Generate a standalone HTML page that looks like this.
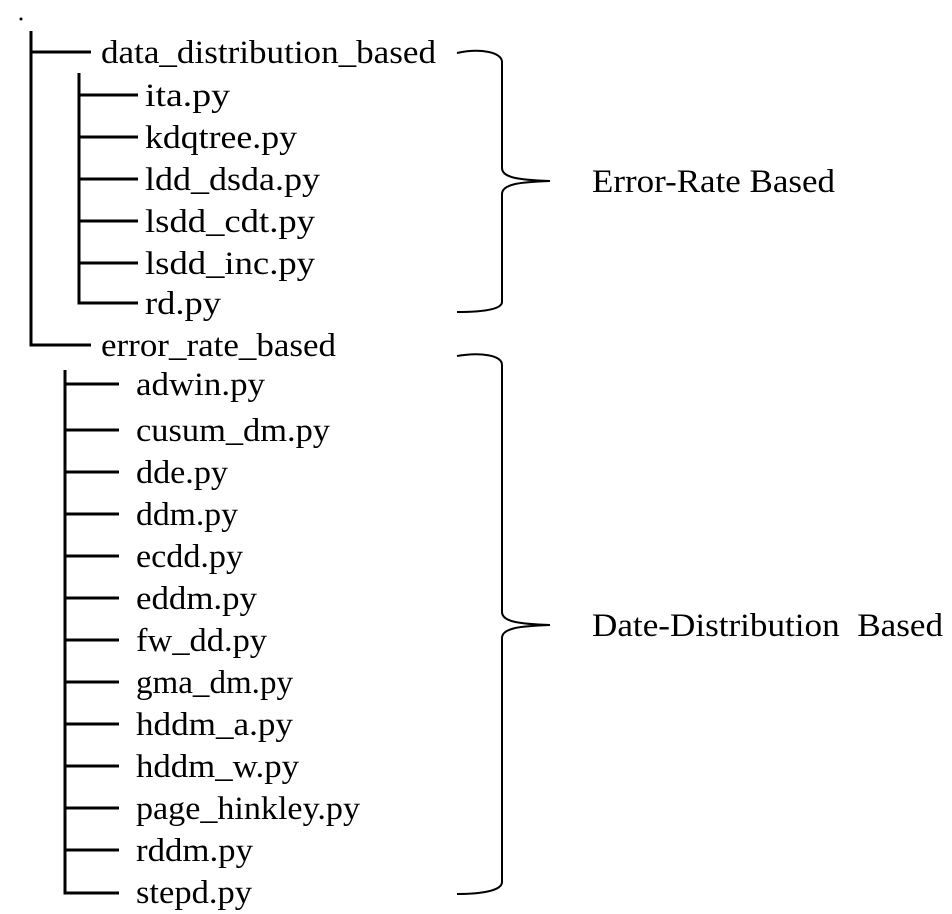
<!DOCTYPE html>
<html><head><meta charset="utf-8"><style>body{margin:0;background:#fff}svg{display:block}</style></head>
<body>
<svg width="952" height="914" viewBox="0 0 952 914" xmlns="http://www.w3.org/2000/svg" font-family="Liberation Serif, serif" font-size="33" fill="#000">
<circle cx="21" cy="19" r="1.5"/>
<g stroke="#000" stroke-width="3" fill="none">
<path d="M31 31 V345 H91 M31 52 H91"/>
<path d="M79 73 V303 H138 M79 95 H138 M79 137 H138 M79 179 H138 M79 221 H138 M79 263 H138"/>
<path d="M65 370 V893 H119 M65 384 H119 M65 430 H119 M65 472 H119 M65 514 H119 M65 556 H119 M65 598 H119 M65 640 H119 M65 682 H119 M65 724 H119 M65 766 H119 M65 808 H119 M65 850 H119"/>
</g>
<g stroke="#000" stroke-width="2" fill="none">
<path d="M457 53 C480 48 502 52 502 62 V168 C502 178 520 180 550 181 C520 182 502 184 502 194 V302 C502 310 480 312 457 312"/>
<path d="M457 356 C480 352 502 355 502 365 V612 C502 622 520 624 550 625 C520 626 502 628 502 638 V882 C502 891 480 894 457 894"/>
</g>
<text x="101" y="63" textLength="335" lengthAdjust="spacingAndGlyphs">data_distribution_based</text>
<text x="145" y="106" textLength="85" lengthAdjust="spacingAndGlyphs">ita.py</text>
<text x="145" y="148" textLength="152" lengthAdjust="spacingAndGlyphs">kdqtree.py</text>
<text x="145" y="190" textLength="175" lengthAdjust="spacingAndGlyphs">ldd_dsda.py</text>
<text x="145" y="232" textLength="170" lengthAdjust="spacingAndGlyphs">lsdd_cdt.py</text>
<text x="145" y="274" textLength="170" lengthAdjust="spacingAndGlyphs">lsdd_inc.py</text>
<text x="145" y="314" textLength="76" lengthAdjust="spacingAndGlyphs">rd.py</text>
<text x="101" y="356" textLength="235" lengthAdjust="spacingAndGlyphs">error_rate_based</text>
<text x="136" y="395" textLength="129" lengthAdjust="spacingAndGlyphs">adwin.py</text>
<text x="136" y="441" textLength="194" lengthAdjust="spacingAndGlyphs">cusum_dm.py</text>
<text x="136" y="483" textLength="92" lengthAdjust="spacingAndGlyphs">dde.py</text>
<text x="136" y="525" textLength="102" lengthAdjust="spacingAndGlyphs">ddm.py</text>
<text x="136" y="567" textLength="107" lengthAdjust="spacingAndGlyphs">ecdd.py</text>
<text x="136" y="609" textLength="121" lengthAdjust="spacingAndGlyphs">eddm.py</text>
<text x="136" y="651" textLength="131" lengthAdjust="spacingAndGlyphs">fw_dd.py</text>
<text x="136" y="693" textLength="157" lengthAdjust="spacingAndGlyphs">gma_dm.py</text>
<text x="136" y="735" textLength="157" lengthAdjust="spacingAndGlyphs">hddm_a.py</text>
<text x="136" y="777" textLength="163" lengthAdjust="spacingAndGlyphs">hddm_w.py</text>
<text x="136" y="819" textLength="224" lengthAdjust="spacingAndGlyphs">page_hinkley.py</text>
<text x="136" y="861" textLength="117" lengthAdjust="spacingAndGlyphs">rddm.py</text>
<text x="136" y="903" textLength="116" lengthAdjust="spacingAndGlyphs">stepd.py</text>
<text x="592" y="192" textLength="243" lengthAdjust="spacingAndGlyphs">Error-Rate Based</text>
<text x="592" y="636" xml:space="preserve" textLength="351" lengthAdjust="spacingAndGlyphs">Date-Distribution  Based</text>
</svg>
</body></html>
